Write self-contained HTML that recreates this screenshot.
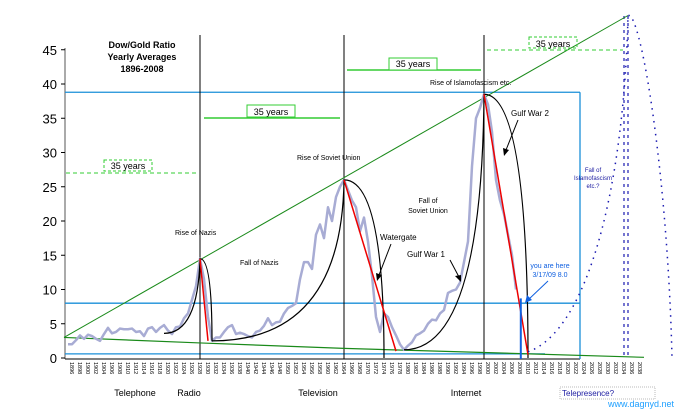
<!DOCTYPE html>
<html><head><meta charset="utf-8">
<style>
html,body{margin:0;padding:0;background:#fff;}
svg{display:block;font-family:"Liberation Sans",sans-serif;}
</style></head>
<body>
<svg id="chart" width="676" height="417" viewBox="0 0 676 417" xmlns="http://www.w3.org/2000/svg">
<rect width="676" height="417" fill="#fff"/>
<g id="static">
  <text x="142" y="48" font-size="9" font-weight="bold" text-anchor="middle" fill="#000">Dow/Gold Ratio</text>
  <text x="142" y="60" font-size="9" font-weight="bold" text-anchor="middle" fill="#000">Yearly Averages</text>
  <text x="142" y="72" font-size="9" font-weight="bold" text-anchor="middle" fill="#000">1896-2008</text>
  <line x1="65" y1="48" x2="65" y2="359" stroke="#aaa" stroke-width="2"/>
</g>
<g id="ticks"></g>
<g id="marks"></g>
<g id="annot">
  <text x="175" y="235" font-size="7" fill="#000">Rise of Nazis</text>
  <text x="240" y="265" font-size="7" fill="#000">Fall of Nazis</text>
  <text x="297" y="160" font-size="7" fill="#000">Rise of Soviet Union</text>
  <text x="428" y="203" font-size="7" text-anchor="middle" fill="#000">Fall of</text>
  <text x="428" y="213" font-size="7" text-anchor="middle" fill="#000">Soviet Union</text>
  <text x="380" y="240" font-size="8" fill="#000">Watergate</text>
  <text x="407" y="257" font-size="8" fill="#000">Gulf War 1</text>
  <text x="430" y="85" font-size="7" fill="#000">Rise of Islamofascism etc.</text>
  <text x="511" y="116" font-size="8" fill="#000">Gulf War 2</text>
  <text x="593" y="172" font-size="6" text-anchor="middle" fill="#1a1aa0">Fall of</text>
  <text x="593" y="180" font-size="6" text-anchor="middle" fill="#1a1aa0">Islamofascism</text>
  <text x="593" y="188" font-size="6" text-anchor="middle" fill="#1a1aa0">etc.?</text>
  <text x="550" y="268" font-size="7" text-anchor="middle" fill="#1060e0">you are here</text>
  <text x="550" y="277" font-size="7" text-anchor="middle" fill="#1060e0">3/17/09 8.0</text>
  <line x1="391" y1="244" x2="379" y2="275" stroke="#000" stroke-width="1"/>
  <polygon points="377,281 376,273 382,275" fill="#000"/>
  <line x1="450" y1="260" x2="459" y2="277" stroke="#000" stroke-width="1"/>
  <polygon points="461,282 455,276 461,275" fill="#000"/>
  <line x1="518" y1="120" x2="506" y2="150" stroke="#000" stroke-width="1"/>
  <polygon points="504,156 503,148 509,150" fill="#000"/>
  <line x1="548" y1="281" x2="528" y2="300" stroke="#1060e0" stroke-width="1"/>
  <polygon points="525,303 527,295 532,300" fill="#1060e0"/>
  <line x1="66" y1="173" x2="196" y2="173" stroke="#3c3" stroke-dasharray="4,3"/>
  <rect x="104" y="160" width="48" height="11" fill="none" stroke="#3c3" stroke-dasharray="3,2"/>
  <text x="128" y="169" font-size="9" text-anchor="middle" fill="#000">35 years</text>
  <line x1="204" y1="118" x2="340" y2="118" stroke="#3c3" stroke-width="1.5"/>
  <rect x="247" y="105" width="48" height="12" fill="#fff" stroke="#3c3"/>
  <text x="271" y="115" font-size="9" text-anchor="middle" fill="#000">35 years</text>
  <line x1="347" y1="70" x2="481" y2="70" stroke="#3c3" stroke-width="1.5"/>
  <rect x="389" y="58" width="48" height="12" fill="#fff" stroke="#3c3"/>
  <text x="413" y="67" font-size="9" text-anchor="middle" fill="#000">35 years</text>
  <line x1="487" y1="50" x2="623" y2="50" stroke="#3c3" stroke-dasharray="4,3"/>
  <rect x="529" y="37" width="48" height="11" fill="none" stroke="#3c3" stroke-dasharray="3,2"/>
  <text x="553" y="47" font-size="9" text-anchor="middle" fill="#000">35 years</text>
  <text x="135" y="396" font-size="9" text-anchor="middle" fill="#000">Telephone</text>
  <text x="189" y="396" font-size="9" text-anchor="middle" fill="#000">Radio</text>
  <text x="318" y="396" font-size="9" text-anchor="middle" fill="#000">Television</text>
  <text x="466" y="396" font-size="9" text-anchor="middle" fill="#000">Internet</text>
  <rect x="560" y="387" width="95" height="12" fill="none" stroke="#bbb" stroke-dasharray="1,1"/>
  <text x="562" y="396" font-size="8" fill="#1a1aa0">Telepresence?</text>
  <text x="674" y="407" font-size="9" text-anchor="end" fill="#1fa0ff">www.dagnyd.net</text>
</g>
<script>
const yTicks = [0,5,10,15,20,25,30,35,40,45];
const yearTicks = [];
for (let yr = 1896; yr <= 2038; yr += 2) yearTicks.push(yr);
const years = [1896,1897,1898,1899,1900,1901,1902,1903,1904,1905,1906,1907,1908,1909,1910,1911,1912,1913,1914,1915,1916,1917,1918,1919,1920,1921,1922,1923,1924,1925,1926,1927,1928,1929,1930,1931,1932,1933,1934,1935,1936,1937,1938,1939,1940,1941,1942,1943,1944,1945,1946,1947,1948,1949,1950,1951,1952,1953,1954,1955,1956,1957,1958,1959,1960,1961,1962,1963,1964,1965,1966,1967,1968,1969,1970,1971,1972,1973,1974,1975,1976,1977,1978,1979,1980,1981,1982,1983,1984,1985,1986,1987,1988,1989,1990,1991,1992,1993,1994,1995,1996,1997,1998,1999,2000,2001,2002,2003,2004,2005,2006,2007,2008];
const ratio = [2.0,2.0,2.6,3.3,2.8,3.4,3.2,2.8,2.5,3.5,4.4,3.6,3.8,4.3,4.2,4.2,4.3,3.8,3.9,3.2,4.3,4.5,3.8,4.4,4.8,4.0,3.5,4.5,4.6,5.8,6.5,8.5,10.5,14.5,11.5,6.0,2.5,3.0,3.0,3.8,4.5,4.8,3.5,3.7,3.5,3.2,3.0,3.8,4.0,4.7,5.8,4.8,5.2,5.3,6.5,7.3,7.6,8.0,11.5,14.0,14.0,13.0,18.0,19.5,17.5,22.0,20.0,23.5,25.0,26.0,24.5,23.0,22.0,18.5,20.5,17.0,12.0,6.0,3.8,6.5,6.0,4.5,3.3,2.0,1.2,1.8,2.3,3.3,3.6,4.0,5.0,5.6,5.5,6.5,7.0,9.5,9.8,10.0,11.0,14.0,17.0,28.0,35.0,36.5,38.5,37.0,33.0,26.0,23.0,21.0,18.0,15.0,10.0];
const upperTrend = [[1895,3.0],[2036,50]];
const lowerTrend = [[1895,3.0],[1929,2.2],[1965,1.4],[2000,0.8],[2040,0.1]];
const hLevels = [38.8, 8.0, 0.6];
const peakYears = [1929, 1965, 2000];
const arcs = [[1920,3.6,1929,14.5,1932,2.5],[1932,2.5,1965,26,1975,0],[1980,1.2,2000,38.5,2011,0]];
const redDrops = [[1929,14.5,1931,2.5],[1965,26,1978,1.0],[2000,38.5,2011,0.5]];
// projection: [year, value] start, control1, control2, peak, peak2, control3, control4, end
const projection = [[2011,0.9],[2026,4],[2035,25],[2036,50],[2036.5,50],[2040,48],[2046,25],[2047,0]];

const X = yr => 68 + (yr - 1896) * 4;
const Y = v => 358 - v * 6.85;
const NS = 'http://www.w3.org/2000/svg';
const marks = document.getElementById('marks');
const ticks = document.getElementById('ticks');
function mk(tag, attrs, parent) {
  const e = document.createElementNS(NS, tag);
  for (const k in attrs) e.setAttribute(k, attrs[k]);
  (parent || marks).appendChild(e);
  return e;
}
yTicks.forEach(v => {
  const t = mk('text', {x: 57, y: Y(v) + 5, 'font-size': 13, 'text-anchor': 'end', fill: '#000'}, ticks);
  
  
  t.textContent = v;
  mk('line', {x1: 61, y1: Y(v), x2: 65, y2: Y(v), stroke: '#000'}, ticks);
});
yearTicks.forEach(yr => {
  const t = mk('text', {x: 0, y: 0, 'font-size': 5.5, fill: '#000', transform: `translate(${X(yr)+2},362) rotate(90)`}, ticks);
  
  
  t.textContent = yr;
});
mk('line', {x1: 65, y1: 359, x2: 580, y2: 359, stroke: '#000'}, ticks);

hLevels.forEach((v, i) => {
  const l = mk('line', {x1: 65, y1: Y(v), x2: i === 2 ? 545 : 580, y2: Y(v), stroke: '#1a8fd8', 'stroke-width': 1.3});
  
  
});
mk('line', {x1: 580, y1: Y(hLevels[0]), x2: 580, y2: 359, stroke: '#1a8fd8', 'stroke-width': 1.3});
peakYears.forEach(yr => {
  const l = mk('line', {x1: X(yr), y1: 35, x2: X(yr), y2: 359, stroke: '#000', 'stroke-width': 1});
  
  
});
[2035, 2036].forEach(yr => {
  const l = mk('line', {x1: X(yr), y1: 16, x2: X(yr), y2: 359, stroke: '#1a1ab0', 'stroke-dasharray': '3,4', 'stroke-width': 1.2});
  
  
});
const ut = mk('polyline', {points: upperTrend.map(p => X(p[0]) + ',' + Y(p[1])).join(' '), fill: 'none', stroke: '#1a8a1a', 'stroke-width': 1});


const lt = mk('polyline', {points: lowerTrend.map(p => X(p[0]) + ',' + Y(p[1])).join(' '), fill: 'none', stroke: '#1a8a1a', 'stroke-width': 1.2});


const series = mk('polyline', {points: years.map((yr, i) => X(yr) + ',' + Y(ratio[i])).join(' '), fill: 'none', stroke: '#a8acd4', 'stroke-width': 2.5, 'stroke-linejoin': 'round'});


arcs.forEach(a => {
  const d = `M${X(a[0])},${Y(a[1])} Q${X(a[2])-2},${Y(a[1])} ${X(a[2])},${Y(a[3])} Q${X(a[2])+ (a[4]-a[2])*4},${Y(a[3])} ${X(a[4])},${Y(a[5])}`;
  const p = mk('path', {d: d, fill: 'none', stroke: '#000', 'stroke-width': 1.2});
  
  
});
redDrops.forEach(r => {
  const l = mk('line', {x1: X(r[0]), y1: Y(r[1]), x2: X(r[2]), y2: Y(r[3]), stroke: '#e00', 'stroke-width': 1.5});
  
  
});
const yh = mk('line', {x1: X(2009.2), y1: Y(8.7), x2: X(2009.2), y2: 359, stroke: '#1060e0', 'stroke-width': 2});


const P = i => X(projection[i][0]) + ',' + Y(projection[i][1]);
const pj = mk('path', {d: `M${P(0)} C${P(1)} ${P(2)} ${P(3)} L${P(4)} C${P(5)} ${P(6)} ${P(7)}`, fill: 'none', stroke: '#1a1ab0', 'stroke-width': 1.5, 'stroke-dasharray': '1.5,5'});


</script>
</svg>
</body></html>
